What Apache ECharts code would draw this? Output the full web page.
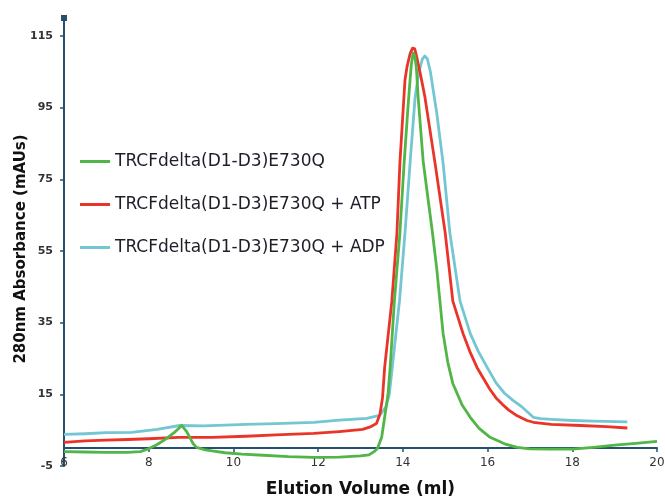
<!DOCTYPE html>
<html><head><meta charset="utf-8">
<script src="https://cdn.jsdelivr.net/npm/echarts@6/dist/echarts.min.js"></script>
<style>html,body{margin:0;padding:0;background:#fff}#c{width:665px;height:498px}</style>
</head><body><div id="c"></div>
<script>
var seriesNames = ['TRCFdelta(D1-D3)E730Q', 'TRCFdelta(D1-D3)E730Q + ATP', 'TRCFdelta(D1-D3)E730Q + ADP'];
var xTicks = [6, 8, 10, 12, 14, 16, 18, 20];
var yTicks = [-5, 15, 35, 55, 75, 95, 115];

var greenX = [6.0,6.5,7.0,7.5,7.8,8.0,8.2,8.4,8.6,8.78,8.9,8.97,9.05,9.13,9.3,9.5,9.8,10.2,10.7,11.3,11.9,12.5,13.0,13.2,13.32,13.4,13.5,13.57,13.65,13.7,13.8,13.93,14.03,14.12,14.17,14.2,14.24,14.28,14.32,14.36,14.48,14.6,14.7,14.8,14.95,15.06,15.18,15.4,15.59,15.8,16.06,16.4,16.7,17.0,17.5,18.0,18.5,19.0,19.5,20.0];
var greenY = [-1.0,-1.1,-1.2,-1.2,-1.0,-0.2,1.0,2.5,4.3,6.3,4.5,3.0,1.2,0.2,-0.4,-0.8,-1.3,-1.7,-2.0,-2.4,-2.6,-2.5,-2.2,-1.9,-1.0,-0.1,3.0,8.6,15,22.5,41,60,79.5,95,102.7,107,110.2,109.5,106,98,80,69,60,50,32,24,18,12,8.6,5.5,3.0,1.2,0.2,-0.2,-0.3,-0.3,0.2,0.8,1.3,1.9];

var redX = [6.0,6.5,7.0,7.5,8.0,8.7,9.5,10.3,11.0,11.9,12.5,13.05,13.25,13.38,13.46,13.52,13.57,13.74,13.86,13.93,14.05,14.1,14.17,14.23,14.28,14.33,14.42,14.52,14.76,15.0,15.18,15.42,15.58,15.75,15.9,16.05,16.2,16.35,16.5,16.7,16.93,17.08,17.5,18.19,18.8,19.3];
var redY = [1.6,2.0,2.2,2.4,2.6,3.0,3.0,3.3,3.7,4.1,4.6,5.2,6.0,6.9,9.5,14,22.5,41,60,79.5,102.7,106.5,110,111.6,111.4,109,104,98,79.5,60,41,32,27,22.5,19.5,16.5,14,12.2,10.6,9.0,7.7,7.2,6.6,6.3,6.0,5.6];

var cyanX = [6.0,6.5,7.0,7.6,8.2,8.73,9.3,10.3,11.0,11.9,12.5,13.15,13.45,13.6,13.68,13.75,13.92,14.05,14.17,14.29,14.38,14.46,14.52,14.58,14.65,14.8,14.95,15.11,15.35,15.59,15.78,15.99,16.2,16.4,16.6,16.8,16.95,17.08,17.25,17.5,18.0,18.5,19.3];
var cyanY = [3.8,4.0,4.3,4.4,5.2,6.3,6.2,6.6,6.8,7.2,7.8,8.3,9.1,11.5,15,22.5,41,60,79.5,98,105,108.5,109.4,108.5,105,93.5,79.5,60,41,32,27,22.5,18.2,15.3,13.3,11.6,10,8.6,8.2,8.0,7.7,7.5,7.3];

var colors = ['#52b548', '#ea3429', '#74c6d2'];

function pairs(xs, ys) { return xs.map(function (x, i) { return [x, ys[i]]; }); }
var dataSets = [pairs(greenX, greenY), pairs(redX, redY), pairs(cyanX, cyanY)];

var axisColor = '#24506e';
var chart = echarts.init(document.getElementById('c'), null, { renderer: 'canvas' });
chart.setOption({
  animation: false,
  backgroundColor: '#ffffff',
  grid: { left: 64, right: 8, top: 18, bottom: 32, containLabel: false, outerBoundsMode: 'none' },
  legend: {
    orient: 'vertical', left: 75, top: 148,
    itemWidth: 30, itemHeight: 14, itemGap: 26,
    icon: 'path://M0,6L30,6L30,9L0,9Z',
    textStyle: { fontFamily: 'DejaVu Sans', fontSize: 17, color: '#1e1e2a' },
    data: seriesNames
  },
  xAxis: {
    type: 'value', min: xTicks[0], max: xTicks[xTicks.length - 1], interval: 2,
    name: 'Elution Volume (ml)', nameLocation: 'middle', nameGap: 15,
    nameTextStyle: { fontFamily: 'DejaVu Sans', fontWeight: 'bold', fontSize: 17, color: '#111' },
    axisLine: { onZero: true, lineStyle: { color: axisColor, width: 2 } },
    axisTick: { show: true, length: 4, lineStyle: { color: axisColor, width: 1.5 } },
    axisLabel: { margin: -9, fontFamily: 'DejaVu Sans', fontSize: 12, color: '#333' },
    splitLine: { show: false }
  },
  yAxis: {
    type: 'value', min: yTicks[0], max: 120, interval: 20,
    name: '280nm Absorbance (mAUs)', nameLocation: 'middle', nameGap: 35, nameMoveOverlap: false,
    nameTextStyle: { fontFamily: 'DejaVu Sans', fontWeight: 'bold', fontSize: 15, color: '#111', padding: [0, 14, 0, 0] },
    axisLine: { lineStyle: { color: axisColor, width: 2 }, symbol: ['none', 'rect'], symbolSize: [6, 6], symbolOffset: [0, 0] },
    axisTick: { show: true, length: 4, lineStyle: { color: axisColor, width: 1.5 } },
    axisLabel: { margin: 11, fontFamily: 'DejaVu Sans', fontWeight: 'bold', fontSize: 11, color: '#333', showMaxLabel: false },
    splitLine: { show: false }
  },
  series: seriesNames.map(function (n, i) {
    return {
      name: n, type: 'line', data: dataSets[i], symbol: 'none', smooth: false,
      color: colors[i],
      lineStyle: { color: colors[i], width: 2.8, join: 'round' },
      z: i === 0 ? 3 : (i === 1 ? 2 : 1)
    };
  })
});
</script></body></html>
